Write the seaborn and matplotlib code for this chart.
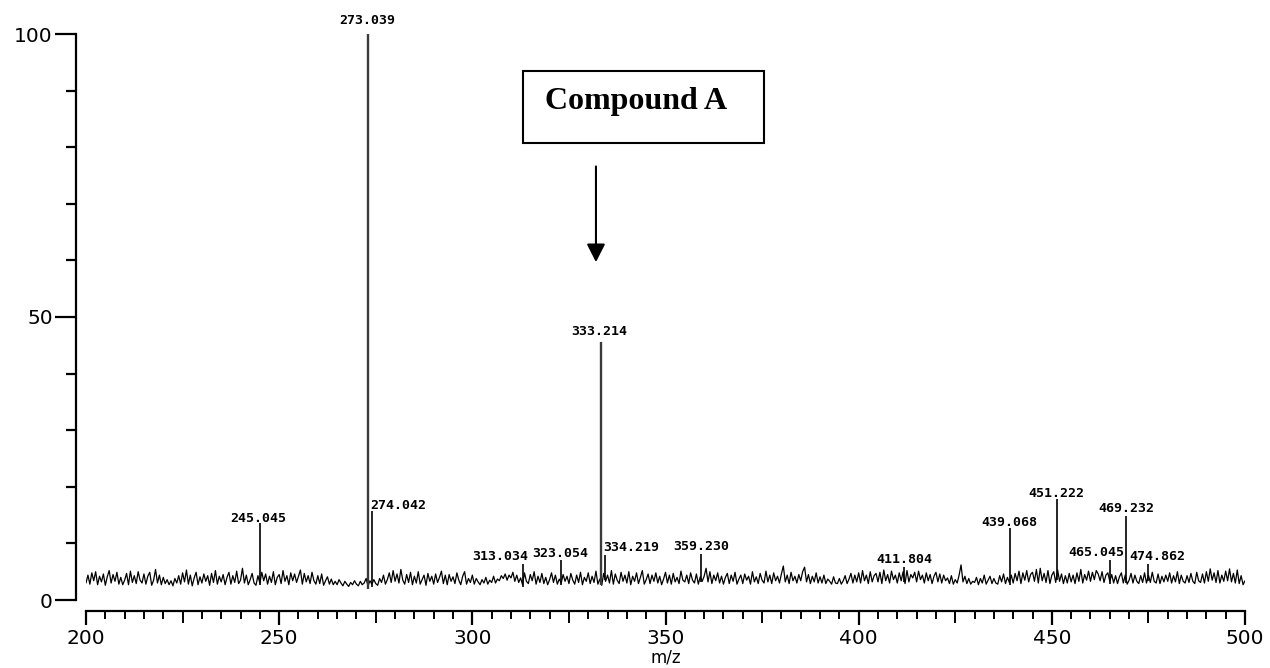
import numpy as np
import pandas as pd
import matplotlib
matplotlib.use("Agg")
import matplotlib.pyplot as plt
import seaborn as sns
from matplotlib.patches import Rectangle
from matplotlib.ticker import MultipleLocator, FixedLocator

# ---------------- data ----------------
mz_start, mz_step = 200.0, 0.5
noise = [
    3.0,4.4,2.8,4.8,3.4,5.0,2.7,4.2,3.2,4.6,
    2.6,4.1,5.2,3.0,4.5,3.3,4.9,2.8,4.0,2.7,
    3.5,4.7,2.7,5.1,3.1,4.3,2.9,5.0,3.5,3.0,
    4.6,2.8,4.2,4.9,2.6,3.5,5.4,3.0,4.4,2.7,
    4.0,2.9,3.6,2.7,3.4,2.5,3.8,3.0,4.3,2.8,
    4.8,3.2,5.3,2.8,4.4,2.5,3.9,4.9,2.7,4.1,
    3.0,4.6,3.3,4.3,2.6,4.7,3.1,5.2,2.8,4.2,
    3.2,4.5,2.7,4.0,4.9,2.8,4.3,3.1,5.1,2.9,
    3.5,5.6,3.0,4.4,2.7,3.6,4.7,3.0,2.6,4.3,
    3.0,4.9,3.4,4.6,2.8,4.2,3.1,5.0,2.7,4.0,
    4.5,2.9,5.2,3.3,4.3,2.7,4.8,3.4,4.6,3.1,
    4.2,5.3,2.8,4.7,3.2,4.3,2.9,4.9,3.4,2.8,
    4.3,2.9,4.6,2.6,3.4,4.1,2.8,3.7,2.7,3.3,
    2.7,3.6,3.0,2.5,3.3,2.8,2.4,3.1,2.7,3.4,
    2.8,2.5,3.3,2.7,3.0,3.8,2.5,3.4,2.8,3.6,
    2.9,2.6,3.8,3.1,4.4,2.8,3.6,4.8,3.1,5.2,
    3.3,4.6,3.0,5.4,3.5,2.8,4.5,3.1,4.9,2.7,
    4.2,3.0,5.0,2.8,3.6,4.4,2.6,4.7,3.3,4.2,
    2.8,4.6,3.1,4.0,5.1,2.9,4.4,2.7,4.5,3.3,
    4.1,2.9,4.8,3.5,2.7,4.2,5.0,2.8,3.8,3.1,
    4.4,2.8,3.8,3.2,2.7,3.6,3.0,4.0,2.8,3.5,
    3.1,4.2,3.0,3.7,3.4,4.3,3.8,4.6,3.5,4.4,
    3.9,4.9,3.3,4.4,3.1,3.9,2.7,4.8,3.3,2.9,
    4.5,3.4,5.0,2.8,4.2,3.1,4.7,2.9,4.0,2.7,
    3.6,4.8,3.1,4.4,2.8,3.7,3.0,4.5,3.3,4.2,
    2.9,4.7,3.5,2.8,4.4,3.1,4.9,2.7,4.0,3.3,
    4.8,2.9,4.2,3.1,5.1,2.8,3.7,2.6,4.7,3.3,
    4.4,3.0,5.2,2.8,4.6,3.5,2.9,4.9,3.3,4.4,
    3.0,5.0,2.7,4.2,3.3,4.8,2.9,4.0,5.2,2.8,
    3.6,4.6,2.9,4.4,3.3,4.8,3.0,4.2,2.7,3.7,
    4.9,3.0,4.4,2.8,4.7,3.2,4.0,2.9,5.1,3.5,
    3.2,4.4,2.9,4.8,3.5,3.0,4.6,2.8,4.1,3.3,
    4.2,5.6,3.2,5.0,2.9,4.4,3.4,4.8,3.0,4.2,
    2.8,4.0,4.7,2.9,4.4,3.3,4.9,2.8,3.7,4.4,
    2.9,4.6,3.5,4.2,2.8,5.0,3.2,4.1,2.9,4.7,
    3.5,3.0,5.1,3.2,4.4,2.9,4.8,3.4,4.2,3.0,
    4.6,6.0,3.2,4.4,2.9,4.9,3.4,4.2,3.0,4.5,
    3.4,5.0,5.8,3.2,4.5,2.9,4.2,3.2,4.8,3.0,
    4.1,3.0,4.4,2.9,3.7,3.3,2.8,4.1,3.0,2.9,
    3.8,2.8,3.4,4.3,2.9,3.7,4.7,3.0,4.4,3.2,
    4.8,3.0,5.2,3.4,4.4,2.9,5.0,3.2,4.3,4.7,
    3.2,4.9,2.9,5.3,3.4,4.5,3.0,5.1,3.6,4.4,
    3.0,4.8,3.4,5.0,2.9,5.2,3.2,4.5,3.9,4.9,
    3.2,5.1,3.6,4.4,3.0,4.8,3.4,4.5,2.9,4.2,
    4.9,3.2,4.6,3.0,4.4,3.4,3.9,2.9,4.3,2.8,
    3.6,3.0,4.4,6.2,3.2,4.2,2.9,3.8,2.8,3.3,
    3.1,4.0,2.7,3.8,3.0,4.4,2.8,3.5,4.2,2.9,
    3.8,3.0,2.8,4.3,3.2,4.6,2.9,4.0,3.1,4.4,
    3.0,4.7,3.4,5.1,2.9,4.8,3.5,5.2,3.2,4.5,
    4.9,3.3,5.4,3.0,5.6,3.4,4.7,3.1,5.2,2.9,
    4.4,5.0,3.1,5.3,3.3,4.6,2.9,4.3,3.0,4.7,
    3.2,4.4,2.9,4.8,3.3,5.4,3.0,4.5,3.5,5.1,
    3.3,4.9,3.6,5.2,4.6,3.4,5.0,3.1,4.4,4.8,
    3.3,4.5,3.0,4.3,2.9,4.1,4.8,3.0,4.4,2.8,
    3.5,4.7,3.0,4.4,3.3,2.9,4.3,3.1,4.8,3.0,
    4.4,3.1,4.9,3.3,3.0,4.6,2.9,4.2,3.2,4.4,
    3.3,4.8,3.0,4.3,3.2,5.0,2.9,4.4,3.3,3.0,
    4.3,3.1,4.7,3.3,2.9,4.9,3.4,3.1,4.6,3.0,
    5.0,3.3,5.5,3.5,4.8,3.1,5.2,3.0,4.4,3.3,
    5.1,3.4,5.5,3.2,4.7,3.0,5.3,2.9,4.3,2.7,
    3.4,
]
peak_mz = [245.045, 273.039, 274.042, 313.034, 323.054, 333.214, 334.219,
           359.230, 411.804, 439.068, 451.222, 465.045, 469.232, 474.862]
peak_int = [13.6, 100.0, 15.7, 6.4, 7.1, 45.6, 7.9,
            8.1, 5.8, 12.7, 17.8, 7.1, 14.8, 6.4]
peak_labels = ["245.045", "273.039", "274.042", "313.034", "323.054", "333.214",
               "334.219", "359.230", "411.804", "439.068", "451.222", "465.045",
               "469.232", "474.862"]
y_ticklabels = ["0", "50", "100"]
x_ticklabels = ["200", "250", "300", "350", "400", "450", "500"]
annotation_text = "Compound A"

# ---------------- layout (pixel offsets of labels) ----------------
label_offsets = [(-2, 5), (-1, 14), (26, 6), (-22, 7), (-1, 6), (-1, 10), (27, 8),
                 (0, 8), (0, 8), (0, 6), (0, 6), (-14, 7), (0, 8), (9, 7)]
strong = {"273.039", "333.214"}

# ---------------- plot ----------------
sns.set_style("ticks")
plt.rcParams["font.family"] = ["DejaVu Sans"]
plt.rcParams["text.color"] = "black"
plt.rcParams["axes.labelcolor"] = "black"
plt.rcParams["xtick.color"] = "black"
plt.rcParams["ytick.color"] = "black"

W, H = 1270, 668
fig = plt.figure(figsize=(W / 100, H / 100), dpi=100)
ax = fig.add_axes([86 / W, 68 / H, 1159 / W, 566 / H])

mz = mz_start + mz_step * np.arange(len(noise))
df = pd.DataFrame({"mz": mz, "intensity": noise})
sns.lineplot(data=df, x="mz", y="intensity", ax=ax, color="black",
             linewidth=0.9, estimator=None, sort=True)

noise_arr = np.array(noise)
for m, h, lab in zip(peak_mz, peak_int, peak_labels):
    base = float(np.interp(m, mz, noise_arr))
    if lab in strong:
        ax.vlines(m, base - 0.6, h, color="#3a3a3a", linewidth=1.7)
    else:
        ax.vlines(m, base - 0.6, h, color="black", linewidth=1.2)

for m, h, lab, (dx, dy) in zip(peak_mz, peak_int, peak_labels, label_offsets):
    ax.annotate(lab, xy=(m, h), xytext=(dx, dy), textcoords="offset pixels",
                ha="center", va="center", fontsize=9.5, fontweight="bold",
                family="DejaVu Sans Mono", color="black", annotation_clip=False)

ax.set_xlim(200, 500)
ax.set_ylim(0, 100)

for s in ("top", "right"):
    ax.spines[s].set_visible(False)
ax.spines["left"].set_position(("outward", 10 * 0.72))
ax.spines["left"].set_bounds(0, 100)
ax.spines["bottom"].set_position(("outward", 11 * 0.72))
ax.spines["bottom"].set_bounds(200, 500)
for s in ("left", "bottom"):
    ax.spines[s].set_linewidth(1.6)
    ax.spines[s].set_color("black")

ax.yaxis.set_major_locator(FixedLocator([0, 50, 100]))
ax.set_yticklabels(y_ticklabels)
ax.yaxis.set_minor_locator(MultipleLocator(10))
ax.xaxis.set_major_locator(FixedLocator([200, 250, 300, 350, 400, 450, 500]))
ax.set_xticklabels(x_ticklabels)
ax.xaxis.set_minor_locator(MultipleLocator(5))

ax.tick_params(axis="y", which="major", length=21 * 0.72, width=1.6, pad=1.5,
               labelsize=14.5, direction="out", colors="black")
ax.tick_params(axis="y", which="minor", length=10 * 0.72, width=1.6, direction="out",
               colors="black")
ax.tick_params(axis="x", which="major", length=14 * 0.72, width=1.6, pad=3,
               labelsize=14.5, direction="out", colors="black")
ax.tick_params(axis="x", which="minor", length=8 * 0.72, width=1.4, direction="out",
               colors="black")

minor_locs = ax.xaxis.get_minorticklocs()
for loc, tick in zip(minor_locs, ax.xaxis.get_minor_ticks(len(minor_locs))):
    if abs((loc - 200) % 50 - 25) < 1e-6:
        tick.tick1line.set_markersize(12 * 0.72)

ax.set_xlabel("m/z", fontsize=12, labelpad=0, color="black")
ax.set_ylabel("")

# Compound A box and arrow
fig.patches.append(Rectangle((523 / W, 1 - 143 / H), 241 / W, 72 / H,
                             transform=fig.transFigure, fill=False,
                             edgecolor="black", linewidth=1.5))
fig.text(545 / W, 1 - 101 / H, annotation_text, ha="left", va="center",
         fontsize=23, fontweight="bold", family="Liberation Serif", color="black")
ax.annotate("", xy=(332.0, 59.7), xytext=(332.0, 76.6),
            arrowprops=dict(arrowstyle="-|>,head_length=0.55,head_width=0.28",
                            color="black", lw=1.5, mutation_scale=20,
                            shrinkA=0, shrinkB=0))

fig.savefig("out.png", dpi=100)
